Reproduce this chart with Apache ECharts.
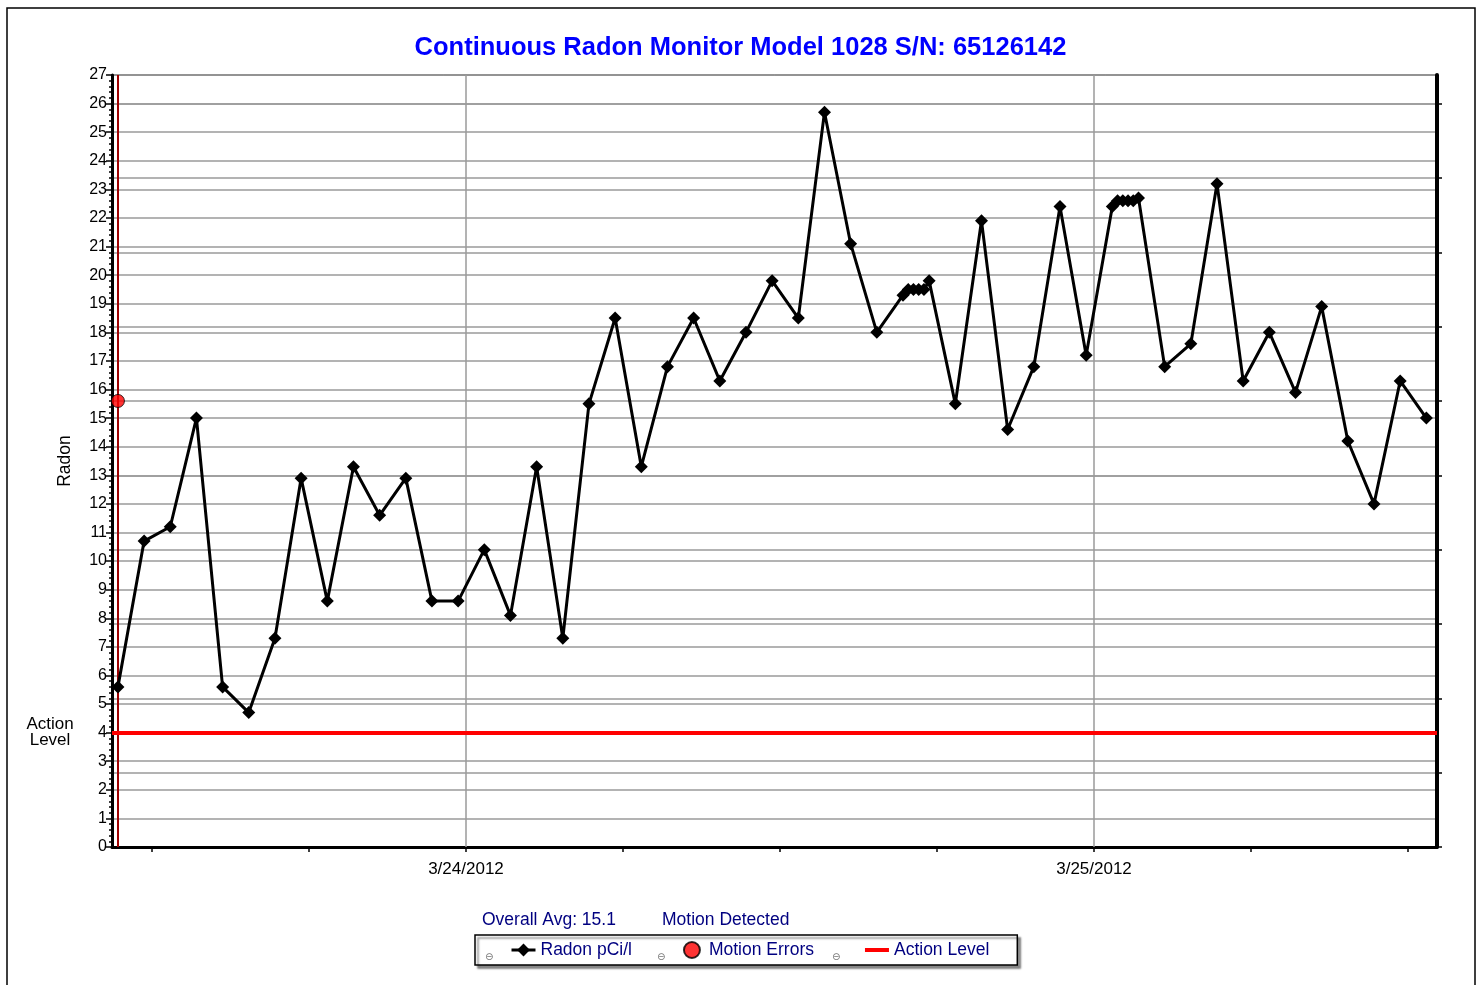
<!DOCTYPE html>
<html>
<head>
<meta charset="utf-8">
<script src="https://cdn.jsdelivr.net/npm/echarts@6/dist/echarts.min.js"></script>
<style>
html,body{margin:0;padding:0;background:#fff;}
#chart{width:1481px;height:985px;}
</style>
</head>
<body>
<div id="chart"></div>
<script>
// ---- data (hours since 3/23/2012 00:00) ----
var hours = [10.7,11.7,12.7,13.7,14.7,15.7,16.7,17.7,18.7,19.7,
  20.7,21.7,22.7,23.7,24.7,25.7,26.7,27.7,28.7,29.7,
  30.7,31.7,32.7,33.7,34.7,35.7,36.7,37.7,38.7,39.7,
  40.7,40.9,41.1,41.3,41.5,41.7,42.7,43.7,44.7,45.7,46.7,47.7,
  48.7,48.9,49.1,49.3,49.5,49.7,50.7,51.7,52.7,53.7,54.7,55.7,56.7,57.7,58.7,59.7,60.7];
var radon = [5.6,10.7,11.2,15.0,5.6,4.7,7.3,12.9,8.6,13.3,
  11.6,12.9,8.6,8.6,10.4,8.1,13.3,7.3,15.5,18.5,
  13.3,16.8,18.5,16.3,18.0,19.8,18.5,25.7,21.1,18.0,
  19.3,19.5,19.5,19.5,19.5,19.8,15.5,21.9,14.6,16.8,22.4,17.2,
  22.4,22.6,22.6,22.6,22.6,22.7,16.8,17.6,23.2,16.3,18.0,15.9,18.9,14.2,12.0,16.3,15.0];
var motionHours = [10.7];
var motionValues = [15.6];
var actionLevel = 4;
var xMin = 10.473, xMax = 61.107;
var tickHours = [12,18,24,30,36,42,48,54,60];
var dayLabelHours = [24,48];
var dayLabels = ['3/24/2012','3/25/2012'];
var rightTicks = [0,2.6,5.2,7.8,10.4,13,15.6,18.2,20.8,23.4,26];
var overallAvg = '15.1';

var radonData = hours.map(function(h,i){return [h, radon[i]];});
var motionData = motionHours.map(function(h,i){return [h, motionValues[i]];});

var FONT = 'Liberation Sans, Arial, sans-serif';
var NAVY = '#000080';
var GRID = '#9a9a9a';

var chart = echarts.init(document.getElementById('chart'), null, {renderer:'canvas'});
chart.setOption({
  animation: false,
  backgroundColor: '#fff',
  textStyle: {fontFamily: FONT},
  title: {
    text: 'Continuous Radon Monitor Model 1028 S/N: 65126142',
    left: 'center', top: 30,
    textStyle: {fontFamily: FONT, fontSize: 25.5, fontWeight: 'bold', color: '#0000ff'}
  },
  grid: {left: 112, top: 75, right: 44, bottom: 138, show: true, borderColor: '#000', borderWidth: 1, backgroundColor: 'transparent'},
  legend: {
    left: 475, top: 935,
    padding: [6, 28, 6, 35],
    itemGap: 51,
    itemWidth: 24, itemHeight: 16,
    backgroundColor: '#fff',
    borderColor: '#000', borderWidth: 1.5,
    shadowColor: 'rgba(0,0,0,0.45)', shadowOffsetX: 3, shadowOffsetY: 3, shadowBlur: 2,
    textStyle: {fontFamily: FONT, fontSize: 17.5, color: NAVY},
    data: [
      {name: 'Radon pCi/l', lineStyle: {width: 3}},
      {name: 'Motion Errors'},
      {name: 'Action Level', icon: 'path://M0,0L24,0L24,4L0,4Z'}
    ]
  },
  xAxis: {
    type: 'value', min: xMin, max: xMax,
    axisLine: {show: true, lineStyle: {color: '#000', width: 3}},
    axisTick: {show: true, customValues: tickHours, length: 5, lineStyle: {color: '#000', width: 1.5}},
    axisLabel: {show: true, customValues: dayLabelHours, margin: 14, fontFamily: FONT, fontSize: 17, color: '#000',
      formatter: function(v){ var i = dayLabelHours.indexOf(v); return i >= 0 ? dayLabels[i] : ''; }},
    splitLine: {show: false}
  },
  yAxis: [{
    type: 'value', min: 0, max: 27, interval: 1,
    name: 'Radon', nameLocation: 'middle', nameRotate: 90, nameGap: 38,
    nameTextStyle: {fontFamily: FONT, fontSize: 17.5, color: '#000'},
    axisLine: {show: true, lineStyle: {color: '#000', width: 3}},
    axisTick: {show: true, length: 6, lineStyle: {color: '#000', width: 1.5}},
    minorTick: {show: true, splitNumber: 5, length: 3, lineStyle: {color: '#000', width: 1.5}},
    axisLabel: {margin: 5, fontFamily: FONT, fontSize: 16, color: '#000'},
    splitLine: {show: true, lineStyle: {color: GRID, width: 1.5}}
  }, {
    type: 'value', min: 0, max: 27, interval: 10.4, position: 'right',
    axisLine: {show: true, lineStyle: {color: '#000', width: 4}},
    axisTick: {show: true, customValues: rightTicks, length: 5, lineStyle: {color: '#000', width: 1.5}},
    axisLabel: {show: false},
    splitLine: {show: true, lineStyle: {color: GRID, width: 1.5}}
  }],
  series: [{
    name: 'Radon pCi/l', type: 'line', data: radonData,
    symbol: 'diamond', symbolSize: 13, z: 4,
    itemStyle: {color: '#000'}, lineStyle: {color: '#000', width: 3},
    markLine: {
      silent: true, symbol: 'none', z: 1, label: {show: false},
      lineStyle: {color: GRID, width: 1.5, type: 'solid'},
      data: dayLabelHours.map(function(h){return {xAxis: h};})
    }
  }, {
    name: 'Motion Errors', type: 'scatter', data: motionData,
    symbol: 'circle', symbolSize: 13, z: 6,
    itemStyle: {color: '#ff0000', borderColor: '#000', borderWidth: 1},
    markLine: {
      silent: true, symbol: 'none', z: 3, label: {show: false},
      lineStyle: {color: '#a00000', width: 2, type: 'solid'},
      data: motionHours.map(function(h){return {xAxis: h};})
    }
  }, {
    name: 'Action Level', type: 'line', data: [], symbol: 'none',
    itemStyle: {color: '#ff0000'}, lineStyle: {color: '#ff0000', width: 4},
    markLine: {
      silent: true, symbol: 'none', z: 5,
      lineStyle: {color: '#ff0000', width: 4, type: 'solid'},
      label: {show: true, position: 'start', distance: 62, formatter: 'Action\nLevel',
        fontFamily: FONT, fontSize: 17, color: '#000', lineHeight: 16, align: 'center',
        padding: [13, 0, 0, 0]},
      data: [{yAxis: actionLevel}]
    }
  }],
  graphic: [
    {type: 'rect', shape: {x: 7, y: 8, width: 1468, height: 1000}, style: {fill: 'none', stroke: '#000', lineWidth: 1.5}, silent: true},
    {type: 'text', left: 482, top: 911, style: {text: 'Overall Avg: ' + overallAvg, fontFamily: FONT, fontSize: 17.5, fill: NAVY}},
    {type: 'text', left: 662, top: 911, style: {text: 'Motion Detected', fontFamily: FONT, fontSize: 17.5, fill: NAVY}},
    {type: 'text', left: 485, top: 952, z: 100, style: {text: '\u2296', fontFamily: 'DejaVu Sans', fontSize: 10, fill: '#777'}},
    {type: 'text', left: 657, top: 952, z: 100, style: {text: '\u2296', fontFamily: 'DejaVu Sans', fontSize: 10, fill: '#777'}},
    {type: 'text', left: 832, top: 952, z: 100, style: {text: '\u2296', fontFamily: 'DejaVu Sans', fontSize: 10, fill: '#777'}}
  ]
});
</script>
</body>
</html>
